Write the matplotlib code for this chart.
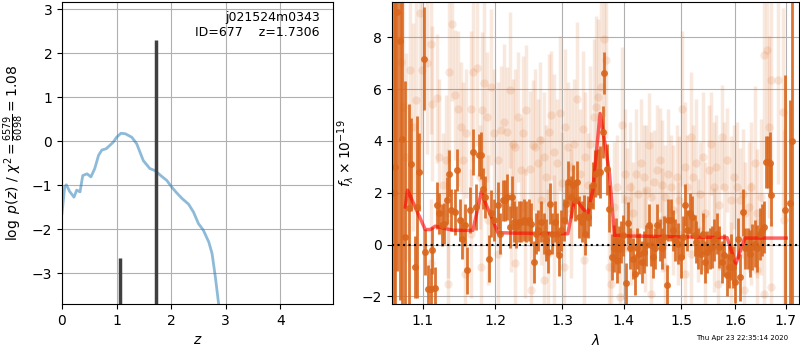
import matplotlib
matplotlib.use("Agg")
import matplotlib.pyplot as plt
from matplotlib.ticker import FixedLocator, NullLocator, FormatStrFormatter
import numpy as np

# p(z) curve
z_grid = [0.0, 0.05, 0.08, 0.14, 0.22, 0.27, 0.33, 0.38, 0.46, 0.53,
          0.60, 0.67, 0.73, 0.81, 0.88, 0.94, 1.00, 1.08, 1.16, 1.28,
          1.37, 1.49, 1.61, 1.71, 1.80, 1.92, 2.01, 2.10, 2.20, 2.32,
          2.41, 2.50, 2.59, 2.69, 2.75, 2.81, 2.87, 2.90]
log_pz = [-1.64, -1.03, -0.99, -1.14, -1.27, -1.11, -1.15, -0.78, -0.74, -0.81,
          -0.62, -0.32, -0.20, -0.17, -0.09, -0.02, 0.09, 0.18, 0.17, 0.09,
          -0.06, -0.44, -0.62, -0.67, -0.77, -0.89, -1.04, -1.17, -1.30, -1.43,
          -1.61, -1.87, -2.02, -2.29, -2.55, -3.08, -3.69, -4.0]

# redshift peaks
z_peaks = [1.064, 1.725]
peak_tops = [-2.66, 2.30]

# binned spectrum
dark_lam = [
    1.0625, 1.0645, 1.0667, 1.0704, 1.0727, 1.0773, 1.0819, 1.0852, 1.0898, 1.0931,
    1.0958, 1.1014, 1.1037, 1.1074, 1.1106, 1.1130, 1.1167, 1.1190, 1.1222, 1.1255,
    1.1292, 1.1329, 1.1347, 1.1384, 1.1431, 1.1468, 1.1500, 1.1532, 1.1569, 1.1607,
    1.1639, 1.1685, 1.1732, 1.1764, 1.1792, 1.1824, 1.1857, 1.1917, 1.1940, 1.1977,
    1.2035, 1.2074, 1.2109, 1.2144, 1.2173, 1.2208, 1.2243, 1.2272, 1.2307, 1.2342,
    1.2381, 1.2421, 1.2456, 1.2490, 1.2530, 1.2569, 1.2604, 1.2639, 1.2678, 1.2718,
    1.2752, 1.2777, 1.2817, 1.2851, 1.2886, 1.2926, 1.2950, 1.2985, 1.3027, 1.3070,
    1.3097, 1.3135, 1.3173, 1.3206, 1.3243, 1.3271, 1.3308, 1.3341, 1.3368, 1.3406,
    1.3449, 1.3487, 1.3525, 1.3568, 1.3611, 1.3649, 1.3676, 1.3720, 1.3757, 1.3811,
    1.3838, 1.3870, 1.3892, 1.3919, 1.3946, 1.3989, 1.4029, 1.4071, 1.4106, 1.4147,
    1.4188, 1.4223, 1.4265, 1.4306, 1.4341, 1.4382, 1.4424, 1.4459, 1.4500, 1.4541,
    1.4576, 1.4618, 1.4659, 1.4694, 1.4735, 1.4765, 1.4812, 1.4853, 1.4894, 1.4941,
    1.4988, 1.5030, 1.5073, 1.5109, 1.5152, 1.5194, 1.5242, 1.5273, 1.5303, 1.5352,
    1.5394, 1.5436, 1.5473, 1.5515, 1.5558, 1.5606, 1.5655, 1.5697, 1.5739, 1.5788,
    1.5836, 1.5879, 1.5909, 1.5958, 1.6000, 1.6046, 1.6099, 1.6151, 1.6197, 1.6243,
    1.6283, 1.6329, 1.6375, 1.6428, 1.6480, 1.6526, 1.6559, 1.6592, 1.6638, 1.6678,
    1.6704, 1.6987, 1.7086, 1.7120]
dark_flux = [
    2.0, 3.0, 8.98, 7.85, 4.09, 0.30, 1.43, 3.10, -0.86, 1.45,
    2.80, 7.18, -0.28, -1.70, -1.70, -0.22, -1.67, 1.52, 1.20, 0.75,
    0.81, 1.71, 2.74, 1.33, 1.26, 2.87, 0.94, 0.23, 0.75, -0.99,
    1.33, 3.58, 1.45, 3.45, 3.45, 2.16, 1.84, -0.54, 1.20, 0.94,
    1.52, 0.42, 1.71, 1.71, 1.84, 0.68, 1.84, 0.88, 0.68, 0.88,
    0.88, 0.94, 0.88, 0.94, 0.81, -0.67, 0.42, 0.55, 0.88, 0.42,
    0.17, -0.28, 1.58, 0.42, 0.88, 0.42, -0.41, 0.55, 0.94, 1.58,
    2.42, 1.84, 2.29, 1.71, 2.42, 1.07, 0.88, 1.13, 0.39, 1.07,
    1.52, 2.29, 2.74, 2.80, 2.80, 4.35, 6.63, 2.90, 1.39, -0.48,
    -0.15, 0.14, -0.60, -0.19, 0.10, 0.36, -1.50, 0.84, -0.15, -0.54,
    -1.15, -0.15, -0.35, -0.67, -0.28, -0.03, 0.75, -0.03, -0.48, -0.15,
    0.75, 0.17, -0.15, 0.30, -1.57, 0.94, 0.94, 0.55, 0.17, 0.04,
    -0.48, 0.30, 1.52, 0.55, 1.20, 1.07, 0.36, 0.10, -0.15, -0.35,
    0.42, -0.67, -0.28, -0.15, -0.09, 0.17, 0.42, -0.09, -0.67, -0.41,
    -1.18, -0.86, -0.48, -0.86, -1.44, 0.23, -1.27, 1.24, -0.15, -0.15,
    -0.35, -0.09, 0.04, -0.15, 0.42, 0.55, 0.68, 3.20, 3.20, 3.15,
    1.90, 1.35, 1.6, 4.0]
dark_err = [
    12, 12, 10, 10, 8, 6, 4, 1.8, 1.2, 3.5,
    1.5, 2.0, 0.9, 0.9, 0.8, 0.9, 0.8, 0.9, 0.8, 0.8,
    0.8, 0.9, 0.9, 0.8, 0.9, 0.8, 0.8, 0.8, 0.8, 0.9,
    0.9, 0.9, 0.9, 0.8, 0.9, 0.8, 0.8, 0.9, 0.9, 0.8,
    0.9, 0.8, 0.8, 0.8, 0.9, 0.8, 0.8, 0.8, 0.8, 0.8,
    0.8, 0.8, 0.8, 0.8, 0.8, 0.8, 0.8, 0.8, 0.8, 0.8,
    0.8, 0.8, 0.8, 0.8, 0.8, 0.8, 0.8, 0.8, 0.8, 0.8,
    0.8, 0.8, 0.8, 0.8, 0.8, 0.8, 0.8, 0.8, 0.8, 0.8,
    0.8, 0.9, 0.9, 0.9, 1.0, 1.0, 0.8, 1.0, 0.9, 0.9,
    0.9, 0.9, 0.9, 0.9, 0.8, 0.8, 0.8, 0.8, 0.8, 0.8,
    0.8, 0.8, 0.8, 0.8, 0.8, 0.8, 0.8, 0.8, 0.8, 0.8,
    0.8, 0.8, 0.8, 0.8, 0.8, 0.8, 0.8, 0.8, 0.8, 0.8,
    0.8, 0.8, 0.8, 0.8, 0.8, 0.8, 0.8, 0.8, 0.8, 0.8,
    0.8, 0.8, 0.8, 0.8, 0.8, 0.8, 0.8, 0.8, 0.8, 0.8,
    0.8, 0.8, 0.9, 0.8, 0.8, 0.8, 0.9, 0.9, 0.8, 0.8,
    0.9, 0.9, 0.9, 0.9, 1.0, 1.0, 1.0, 1.0, 1.0, 1.2,
    1.2, 5.2, 4.0, 8.0]

# individual beam spectra (faint)
faint_lam = [
    1.0713, 1.0745, 1.0782, 1.0829, 1.0875, 1.0912, 1.0968, 1.0991, 1.1060, 1.1106,
    1.1130, 1.1190, 1.1222, 1.1269, 1.1315, 1.1347, 1.1394, 1.1440, 1.1477, 1.1514,
    1.1546, 1.1593, 1.1653, 1.1685, 1.1745, 1.1778, 1.1810, 1.1847, 1.1884, 1.1940,
    1.1986, 1.2035, 1.2084, 1.2134, 1.2173, 1.2208, 1.2257, 1.2292, 1.2332, 1.2371,
    1.2406, 1.2455, 1.2505, 1.2554, 1.2589, 1.2629, 1.2668, 1.2718, 1.2752, 1.2802,
    1.2837, 1.2876, 1.2926, 1.2965, 1.3000, 1.3054, 1.3092, 1.3146, 1.3189, 1.3243,
    1.3287, 1.3325, 1.3362, 1.3406, 1.3449, 1.3503, 1.3541, 1.3579, 1.3622, 1.3665,
    1.3703, 1.3757, 1.3794, 1.3838, 1.3892, 1.3935, 1.3973, 1.4012, 1.4059, 1.4106,
    1.4147, 1.4206, 1.4247, 1.4294, 1.4341, 1.4382, 1.4424, 1.4471, 1.4518, 1.4559,
    1.4617, 1.4659, 1.4706, 1.4765, 1.4812, 1.4853, 1.4912, 1.4953, 1.5012, 1.5061,
    1.5109, 1.5170, 1.5212, 1.5273, 1.5333, 1.5394, 1.5436, 1.5497, 1.5545, 1.5594,
    1.5636, 1.5697, 1.5739, 1.5788, 1.5848, 1.5909, 1.5970, 1.6033, 1.6086, 1.6151,
    1.6197, 1.6263, 1.6309, 1.6375, 1.6428, 1.6494, 1.6559, 1.6612, 1.6658, 1.6691,
    1.6836, 1.6941, 1.6967, 1.1106, 1.1338, 1.1569, 1.1801, 1.2035, 1.2282, 1.2530,
    1.2728, 1.2777, 1.3027, 1.3352, 1.4118, 1.4471, 1.4706, 1.5061, 1.5182, 1.5424,
    1.5667, 1.5909, 1.6164, 1.6428, 1.6559, 1.6691, 1.1338, 1.1662, 1.1893, 1.2233,
    1.2431, 1.2678, 1.2876, 1.3135, 1.4941, 1.5303, 1.5606, 1.4647, 1.4353, 1.4000,
    1.6296]
faint_flux = [
    7.05, 5.32, 3.38, 6.73, 4.54, 5.57, 8.92, 6.73, 6.99, 7.76,
    5.44, 5.64, 3.38, 2.29, 3.26, 6.67, 8.53, 5.77, 5.25, 4.54,
    3.26, 4.29, 5.25, 6.67, 6.80, 2.61, 5.19, 6.22, 4.93, 6.09,
    4.29, 3.26, 4.41, 4.74, 4.35, 5.96, 3.90, 3.77, 4.93, 2.87,
    4.29, 5.19, 2.93, 3.84, 3.77, 3.13, 4.03, 3.38, 2.61, 4.35,
    4.99, 3.58, 3.13, 5.06, 2.36, 4.54, 3.77, 3.00, 3.90, 5.61,
    2.74, 4.48, 3.38, 2.29, 3.90, 4.93, 5.32, 5.70, 6.09, 7.95,
    7.12, -0.86, -1.51, 1.45, 2.23, -2.02, 4.61, 2.74, 1.71, 2.23,
    1.20, 2.74, 1.97, 3.13, 2.61, 2.10, 3.84, 1.84, 2.42, 2.87,
    3.26, 2.29, 1.84, 2.74, 2.23, 1.33, 2.61, 1.71, 5.25, 3.00,
    2.23, 4.16, 2.61, 3.13, 1.97, 3.38, 1.20, 2.87, 3.90, 2.23,
    3.00, 1.52, 4.16, 2.23, 3.26, 1.71, 2.61, 2.23, 1.71, 1.97,
    1.20, 1.45, 2.23, 3.13, 1.20, 1.84, 7.31, 7.50, 4.54, 6.34,
    6.34, 5.12, 0.94, -0.73, -1.51, -1.12, -0.86, -0.35, -0.73, -1.76,
    -1.38, -0.35, -0.86, -0.60, 0.42, -1.89, -0.86, -1.12, -0.35, -0.86,
    -1.51, -1.12, -1.76, -0.99, -1.89, -1.63, 1.20, 0.42, 0.94, 1.45,
    0.42, 1.71, 0.17, 1.20, 0.42, 0.55, 0.17, 0.94, 0.17, -0.09,
    0.42]
faint_err = [
    5.0, 5.0, 4.0, 5.0, 4.0, 4.0, 5.0, 4.0, 3.5, 3.5,
    3.0, 2.5, 3.0, 2.0, 2.5, 3.5, 3.0, 2.5, 3.0, 2.5,
    3.0, 2.5, 3.0, 3.5, 3.0, 2.0, 3.0, 3.5, 2.5, 3.0,
    2.5, 3.0, 2.5, 3.0, 2.5, 3.0, 2.5, 3.0, 2.5, 2.0,
    3.0, 2.5, 3.0, 2.5, 3.0, 2.5, 3.0, 2.5, 2.0, 3.0,
    2.5, 3.0, 2.5, 3.0, 2.0, 3.0, 2.5, 3.0, 2.5, 3.0,
    2.5, 3.0, 2.5, 2.0, 3.0, 3.0, 3.5, 3.0, 3.5, 3.0,
    3.0, 2.5, 2.5, 2.5, 2.0, 2.5, 3.0, 2.5, 2.0, 2.5,
    2.0, 2.5, 2.0, 2.5, 2.0, 2.5, 2.0, 2.5, 2.0, 2.5,
    2.0, 2.5, 2.0, 2.5, 2.0, 2.5, 2.0, 2.5, 3.0, 2.5,
    2.0, 2.5, 2.0, 2.5, 2.0, 2.5, 2.0, 2.5, 2.0, 2.5,
    2.0, 2.5, 2.0, 2.5, 2.0, 2.5, 2.0, 2.5, 2.0, 2.5,
    2.0, 2.5, 2.5, 3.0, 2.5, 3.0, 4.0, 4.0, 3.5, 4.0,
    4.0, 4.0, 3.5, 2.5, 2.5, 2.5, 2.5, 2.5, 2.5, 2.5,
    2.5, 2.5, 2.5, 2.5, 2.0, 2.0, 2.0, 2.0, 2.0, 2.0,
    2.0, 2.0, 2.0, 2.0, 2.5, 2.5, 2.5, 2.5, 2.5, 2.5,
    2.5, 2.5, 2.5, 2.5, 2.0, 2.0, 2.0, 2.0, 2.0, 2.0,
    2.0]

# best-fit model
model_lam = [1.0775, 1.0804, 1.1035, 1.1102, 1.1168, 1.1302, 1.1414, 1.1684, 1.1802, 1.1873,
             1.1966, 1.2038, 1.2305, 1.3013, 1.3091, 1.3195, 1.3249, 1.3328, 1.3408, 1.3489,
             1.3607, 1.3679, 1.3761, 1.3843, 1.4093, 1.5273, 1.5844, 1.6009, 1.6183, 1.7007]
model_flux = [1.45, 2.10, 0.58, 0.58, 0.71, 0.62, 0.55, 0.55, 2.03, 1.52,
              0.94, 0.46, 0.44, 0.42, 0.42, 1.71, 1.65, 1.39, 1.20, 2.10,
              5.06, 4.03, 2.74, 0.36, 0.33, 0.29, 0.27, -0.75, 0.25, 0.25]

lam_ticks = [1.1, 1.2, 1.3, 1.4, 1.5, 1.6, 1.7]
orange = '#d9661c'

fig = plt.figure(figsize=(8, 3.5), dpi=100)

# left panel: p(z)
ax1 = fig.add_axes([0.0775, 0.131, 0.339, 0.863])
ax1.plot(z_grid, log_pz, color='tab:blue', alpha=0.5, lw=2)
ax1.vlines(z_peaks, -10, peak_tops, color='0.25', lw=2.5)
ax1.set_xlim(0, 4.97)
ax1.set_ylim(-3.7, 3.16)
ax1.set_xticks([0, 1, 2, 3, 4])
ax1.grid()
ax1.set_xlabel(r'$z$')
ax1.set_ylabel(r'$\log\ p(z)$' + ' / ' + r'$\chi^2=\frac{6579}{6098}=1.08$')
ax1.text(0.95, 0.97, 'j021524m0343\nID=677    z=1.7306', transform=ax1.transAxes,
         ha='right', va='top', fontsize=9)

# right panel: spectrum
ax2 = fig.add_axes([0.49, 0.131, 0.509, 0.863])
ax2.errorbar(faint_lam, faint_flux, faint_err, fmt='o', color=orange, alpha=0.15,
             ms=6, elinewidth=2.5, capsize=0, mec='none')
ax2.errorbar(dark_lam, dark_flux, dark_err, fmt='o', color=orange, alpha=0.9,
             ms=5, elinewidth=2, capsize=0, mec='none')
ax2.plot(model_lam, model_flux, color='r', alpha=0.6, lw=2.5)
ax2.axhline(0, color='k', ls=':', lw=1.5)
ax2.set_xscale('log')
ax2.set_xlim(1.0604, 1.7274)
ax2.set_ylim(-2.3, 9.36)
ax2.xaxis.set_major_locator(FixedLocator(lam_ticks))
ax2.xaxis.set_major_formatter(FormatStrFormatter('%.1f'))
ax2.xaxis.set_minor_locator(NullLocator())
ax2.grid()
ax2.set_xlabel(r'$\lambda$')
ax2.set_ylabel(r'$f_\lambda\times 10^{-19}$')

fig.text(0.985, 0.025, 'Thu Apr 23 22:35:14 2020', ha='right', va='bottom', fontsize=5)

fig.savefig('out.png', dpi=100)
